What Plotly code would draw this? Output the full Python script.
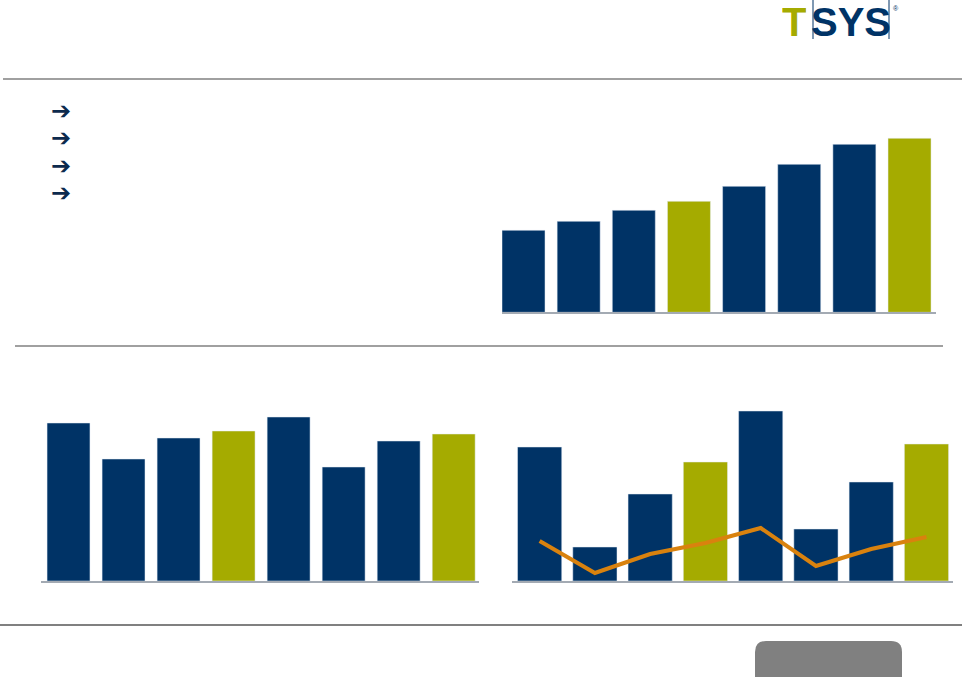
import plotly.graph_objects as go

W, H = 962, 677

# ---- data (arbitrary units) ----
periods = ["P1", "P2", "P3", "P4", "P5", "P6", "P7", "P8"]
top_values = [82, 91, 102, 111, 126, 148, 168, 174]
bottom_left_values = [158, 122, 143, 150, 164, 114, 140, 147]
bottom_right_values = [134, 34, 87, 119, 170, 52, 99, 137]
bottom_right_line = [40, 8, 27, 38, 53, 15, 32, 44]
highlight = [False, False, False, True, False, False, False, True]

NAVY = "#003366"
OLIVE = "#a5ab00"
ORANGE = "#d9820e"
GREY = "#808080"
AXIS = "#a3aab3"

bar_colors = [OLIVE if h else NAVY for h in highlight]


def px(x):
    return x / W


def py(y):
    return 1 - y / H


fig = go.Figure()

# Top-right chart
fig.add_trace(go.Bar(x=periods, y=top_values, marker_color=bar_colors, width=0.78,
                     xaxis="x", yaxis="y", showlegend=False, hoverinfo="skip"))
# Bottom-left chart
fig.add_trace(go.Bar(x=periods, y=bottom_left_values, marker_color=bar_colors, width=0.78,
                     xaxis="x2", yaxis="y2", showlegend=False, hoverinfo="skip"))
# Bottom-right chart
fig.add_trace(go.Bar(x=periods, y=bottom_right_values, marker_color=bar_colors, width=0.80,
                     xaxis="x3", yaxis="y3", showlegend=False, hoverinfo="skip"))
fig.add_trace(go.Scatter(x=periods, y=bottom_right_line, mode="lines",
                         line=dict(color=ORANGE, width=4),
                         xaxis="x3", yaxis="y3", showlegend=False, hoverinfo="skip"))


def xax(x0, x1, r):
    return dict(domain=[px(x0), px(x1)], range=r, showticklabels=False, ticks="",
                showgrid=False, zeroline=False, showline=True, linecolor=AXIS,
                linewidth=1.5, fixedrange=True)


def yax(base, top, anchor):
    return dict(domain=[py(base), py(top)], range=[0, base - top], visible=False,
                showgrid=False, zeroline=False, anchor=anchor, fixedrange=True)


fig.update_layout(
    width=W, height=H,
    margin=dict(l=0, r=0, t=0, b=0),
    paper_bgcolor="white", plot_bgcolor="white",
    bargap=0.2,
    xaxis=dict(**xax(502, 936, [-0.39, 7.48]), anchor="y"),
    yaxis=yax(312.3, 120.3, "x"),
    xaxis2=dict(**xax(41, 479, [-0.5, 7.46]), anchor="y2"),
    yaxis2=yax(581, 390, "x2"),
    xaxis3=dict(**xax(512, 953, [-0.5, 7.48]), anchor="y3"),
    yaxis3=yax(581, 390, "x3"),
)

shapes = []
# separator lines
shapes.append(dict(type="line", xref="paper", yref="paper", x0=px(3), x1=px(962),
                   y0=py(79), y1=py(79), line=dict(color=GREY, width=1.5)))
shapes.append(dict(type="line", xref="paper", yref="paper", x0=px(15), x1=px(943),
                   y0=py(346), y1=py(346), line=dict(color=GREY, width=1.5)))
shapes.append(dict(type="line", xref="paper", yref="paper", x0=px(0), x1=px(962),
                   y0=py(625), y1=py(625), line=dict(color=GREY, width=2)))
# logo vertical rules
for lx in (813, 889):
    shapes.append(dict(type="line", xref="paper", yref="paper", x0=px(lx), x1=px(lx),
                       y0=py(0), y1=py(39), line=dict(color=NAVY, width=1)))
# rounded grey tab at the bottom
x0, x1, y0, y1, r = 755, 902, 641, 680, 11
path = (f"M {px(x0)},{py(y1)} L {px(x0)},{py(y0 + r)} "
        f"Q {px(x0)},{py(y0)} {px(x0 + r)},{py(y0)} "
        f"L {px(x1 - r)},{py(y0)} Q {px(x1)},{py(y0)} {px(x1)},{py(y0 + r)} "
        f"L {px(x1)},{py(y1)} Z")
shapes.append(dict(type="path", xref="paper", yref="paper", path=path,
                   fillcolor=GREY, line=dict(width=0)))
fig.update_layout(shapes=shapes)

ann = []
# logo text
ann.append(dict(text="T", x=px(794), y=py(22), xref="paper", yref="paper",
                xanchor="center", yanchor="middle", showarrow=False, height=36,
                font=dict(family="Liberation Sans", size=40, color=OLIVE, weight="bold")))
ann.append(dict(text="SYS", x=px(851), y=py(22), xref="paper", yref="paper",
                xanchor="center", yanchor="middle", showarrow=False, height=36,
                font=dict(family="Liberation Sans", size=40, color=NAVY, weight="bold")))
ann.append(dict(text="®", x=px(896), y=py(8), xref="paper", yref="paper",
                xanchor="center", yanchor="middle", showarrow=False,
                font=dict(family="Liberation Sans", size=7, color=NAVY)))
# bullet arrows
for ay in (111, 138, 166, 193):
    ann.append(dict(text="➔", x=px(61), y=py(ay), xref="paper", yref="paper",
                    xanchor="center", yanchor="middle", showarrow=False, height=20,
                    font=dict(family="DejaVu Sans", size=24, color="#0d2a4d", weight="bold")))
fig.update_layout(annotations=ann)

fig.write_html("out.html", config={"displayModeBar": False, "staticPlot": True},
               post_script="document.body.style.margin='0';document.body.style.overflow='hidden';")
